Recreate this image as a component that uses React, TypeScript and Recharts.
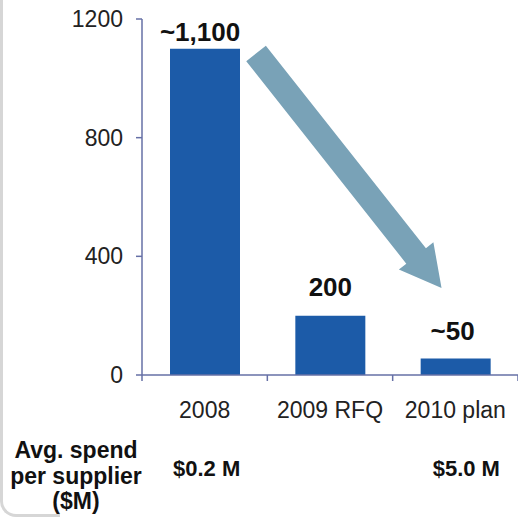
import React from 'react';
import { BarChart, Bar, XAxis, YAxis, LabelList, ReferenceLine } from 'recharts';

const categories = ['2008', '2009 RFQ', '2010 plan'];
const supplierCounts = [1100, 200, 56];
const valueLabels = ['~1,100', '200', '~50'];
const avgSpendLabels = ['$0.2 M', '', '$5.0 M'];
const yTicks = [0, 400, 800, 1200];
// arrow annotation: from the 2008 column to the 2010 column (supplier counts at its ends)
const arrowFrom = { x: '2008', y: 1084 };
const arrowTo = { x: '2010 plan', y: 293 };

const data = categories.map((c, i) => ({
  category: c,
  count: supplierCounts[i],
  label: valueLabels[i],
}));

const LABEL_OFFSETS = [8, 20, 18];
const LABEL_DX = [-5, 0, -3];
const SPEND_DX = [2, 0, 11];
const AXIS_COLOR = '#6670a6';
const BAR_COLOR = '#1c5ba8';
const ARROW_COLOR = '#79a2b7';
const FONT = '"Liberation Sans", Arial, sans-serif';

const ArrowShape = (props: any) => {
  const { x1: cx1, y1, x2: cx2, y2 } = props;
  if ([cx1, y1, cx2, y2].some((v) => typeof v !== 'number' || isNaN(v))) return null;
  const step = (cx2 - cx1) / 2;
  const x1 = cx1 + step * 0.41;
  const x2 = cx2 - step * 0.11;
  const dx = x2 - x1;
  const dy = y2 - y1;
  const len = Math.hypot(dx, dy);
  const ux = dx / len;
  const uy = dy / len;
  const px = -uy;
  const py = ux;
  const sw = 12.5;
  const hw = 22;
  const hl = 41;
  const bx = x2 - ux * hl;
  const by = y2 - uy * hl;
  const pts = [
    [x1 + px * sw, y1 + py * sw],
    [bx + px * sw, by + py * sw],
    [bx + px * hw, by + py * hw],
    [x2, y2],
    [bx - px * hw, by - py * hw],
    [bx - px * sw, by - py * sw],
    [x1 - px * sw, y1 - py * sw],
  ];
  return <polygon points={pts.map((p) => p.join(',')).join(' ')} fill={ARROW_COLOR} />;
};

const renderValueLabel = (props: any) => {
  const vb = props.viewBox || props;
  const x = vb.x ?? props.x;
  const y = vb.y ?? props.y;
  const width = vb.width ?? props.width;
  const index = props.index ?? 0;
  return (
    <text
      x={x + width / 2 + LABEL_DX[index]}
      y={y - LABEL_OFFSETS[index]}
      textAnchor="middle"
      fontWeight="bold"
      fontSize={26}
      fill="#111"
      fontFamily={FONT}
    >
      {props.value}
    </text>
  );
};

const CategoryTick = (props: any) => {
  const { x, y, index, payload } = props;
  const half = payload?.offset ?? 0;
  const isLast = index === categories.length - 1;
  return (
    <g>
      <line x1={x - half} x2={x - half} y1={y} y2={y + 6} stroke={AXIS_COLOR} strokeWidth={1.5} />
      {isLast && (
        <line x1={x + half} x2={x + half} y1={y} y2={y + 6} stroke={AXIS_COLOR} strokeWidth={1.5} />
      )}
      <text x={x} y={y + 27} dy="0.71em" textAnchor="middle" fontSize={23} fill="#222" fontFamily={FONT}>
        {payload?.value}
      </text>
    </g>
  );
};

const SpendTick = (props: any) => {
  const { x, y, index } = props;
  return (
    <text
      x={x + SPEND_DX[index]}
      y={y}
      dy="0.71em"
      textAnchor="middle"
      fontWeight="bold"
      fontSize={22}
      fill="#111"
      fontFamily={FONT}
    >
      {avgSpendLabels[index]}
    </text>
  );
};

export default function App() {
  return (
    <div
      style={{
        position: 'absolute',
        left: 0,
        top: 0,
        width: 518,
        height: 517,
        background: '#fff',
        fontFamily: FONT,
        overflow: 'hidden',
      }}
    >
      <div
        style={{
          position: 'absolute',
          left: 0,
          top: -10,
          width: 60,
          height: 527,
          boxSizing: 'border-box',
          borderLeft: '3px solid #d6d6d6',
          borderBottom: '3px solid #d6d6d6',
          borderBottomLeftRadius: 16,
        }}
      />
      <BarChart
        width={518}
        height={517}
        data={data}
        margin={{ top: 19, right: 0, left: 0, bottom: 32 }}
        barSize={70}
      >
        <XAxis
          dataKey="category"
          height={60}
          axisLine={{ stroke: AXIS_COLOR, strokeWidth: 1.5 }}
          tickLine={false}
          tickSize={0}
          tickMargin={0}
          tick={<CategoryTick />}
          interval={0}
        />
        <XAxis
          xAxisId="spend"
          dataKey="category"
          height={50}
          axisLine={false}
          tickLine={false}
          tickSize={0}
          tickMargin={25}
          tick={<SpendTick />}
          interval={0}
        />
        <YAxis
          width={142}
          domain={[0, 1200]}
          ticks={yTicks}
          tickSize={6}
          tickMargin={13}
          axisLine={{ stroke: AXIS_COLOR, strokeWidth: 1.5 }}
          tickLine={{ stroke: AXIS_COLOR, strokeWidth: 1.5 }}
          tick={{ fontSize: 23, fill: '#222' }}
        />
        <Bar dataKey="count" fill={BAR_COLOR} isAnimationActive={false}>
          <LabelList dataKey="label" content={renderValueLabel} />
        </Bar>
        <ReferenceLine
          segment={[arrowFrom, arrowTo]}
          shape={(p: any) => <ArrowShape {...p} />}
          ifOverflow="visible"
        />
      </BarChart>
      <div
        style={{
          position: 'absolute',
          left: 0,
          top: 438.3,
          width: 152,
          textAlign: 'center',
          fontWeight: 'bold',
          fontSize: 23,
          lineHeight: '25.5px',
          color: '#111',
        }}
      >
        Avg. spend
        <br />
        per supplier
        <br />
        ($M)
      </div>
    </div>
  );
}
